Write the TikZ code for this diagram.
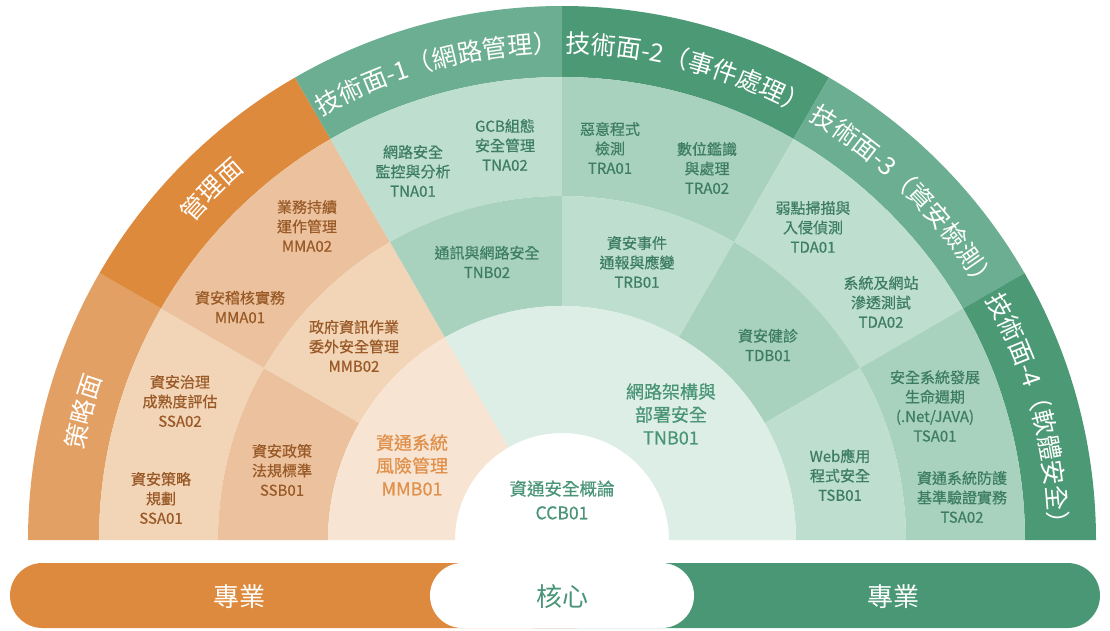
\documentclass[tikz,border=0pt]{standalone}
\usepackage{fontspec}
\newfontfamily\cjk{Noto Sans CJK TC}
\newfontfamily\cjkm{Noto Sans CJK TC}[FakeBold=0.6]
\usetikzlibrary{decorations.text}
\definecolor{stratband}{HTML}{E3A064}
\definecolor{mgtband}{HTML}{DD8A3C}
\definecolor{oLight}{HTML}{F2D4B6}
\definecolor{oDark}{HTML}{EBC29D}
\definecolor{oCore}{HTML}{F8E4D2}
\definecolor{gBandL}{HTML}{6BAE92}
\definecolor{gBandD}{HTML}{4C9976}
\definecolor{gLight}{HTML}{BEDECF}
\definecolor{gDark}{HTML}{A8D1BE}
\definecolor{gCore}{HTML}{DCEEE5}
\definecolor{oText}{HTML}{9A5A28}
\definecolor{oTextB}{HTML}{E0904A}
\definecolor{gText}{HTML}{3D7D63}
\definecolor{gTextB}{HTML}{4A9478}
\definecolor{barO}{HTML}{DE8A3E}
\definecolor{barG}{HTML}{4A9775}
\newcommand{\bandfont}{\cjk\fontsize{25pt}{25pt}\selectfont}
\newcommand{\sector}[5]{\fill[#1] (#2:#4pt) arc[start angle=#2, end angle=#3, radius=#4pt] -- (#3:#5pt) arc[start angle=#3, end angle=#2, radius=#5pt] -- cycle;}
\newcommand{\bandlabel}[4]{\path[decorate,decoration={text along path, text align=center, text color=white, text={|\bandfont|#4}}] (#1:#3pt) arc[start angle=#1, end angle=#2, radius=#3pt];}
\tikzset{
  lab/.style={font=\cjkm\fontsize{15pt}{19.5pt}\selectfont, align=center, inner sep=0pt},
  olab/.style={lab, text=oText},
  glab/.style={lab, text=gText},
  biglab/.style={font=\cjkm\fontsize{18pt}{23pt}\selectfont, align=center, inner sep=0pt},
  barbox/.style={minimum height=65pt, rounded corners=32.5pt, inner sep=0pt},
  bartext/.style={font=\cjk\fontsize{26pt}{26pt}\selectfont, inner sep=0pt}
}
\begin{document}
\begin{tikzpicture}[x=1pt,y=1pt]
\useasboundingbox (-562,-90) rectangle (548,540);
% outer band
\sector{stratband}{150}{180}{463}{534}
\sector{mgtband}{120}{150}{463}{534}
\sector{gBandL}{90}{120}{463}{534}
\sector{gBandD}{60}{90}{463}{534}
\sector{gBandL}{30}{60}{463}{534}
\sector{gBandD}{0}{30}{463}{534}
% ring 2
\sector{oLight}{150}{180}{344}{463}
\sector{oDark}{120}{150}{344}{463}
\sector{gLight}{90}{120}{344}{463}
\sector{gDark}{60}{90}{344}{463}
\sector{gLight}{30}{60}{344}{463}
\sector{gDark}{0}{30}{344}{463}
% ring 3
\sector{oDark}{150}{180}{234}{344}
\sector{oLight}{120}{150}{234}{344}
\sector{gDark}{90}{120}{234}{344}
\sector{gLight}{60}{90}{234}{344}
\sector{gDark}{30}{60}{234}{344}
\sector{gLight}{0}{30}{234}{344}
% ring 4
\sector{oCore}{120}{180}{107}{234}
\sector{gCore}{0}{120}{107}{234}
% band labels
\bandlabel{180}{150}{487}{策略面}
\bandlabel{150}{120}{487}{管理面}
\bandlabel{120}{90}{487}{技術面-1（網路管理）}
\bandlabel{90}{60}{487}{技術面-2（事件處理）}
\bandlabel{60}{30}{487}{技術面-3（資安檢測）}
\bandlabel{30}{0}{487}{技術面-4（軟體安全）}
% labels
\node[olab] (mma02) at (-255,314) {業務持續\\運作管理\\MMA02};
\node[olab] (mma01) at (-322,233) {資安稽核實務\\MMA01};
\node[olab] (mmb02) at (-208,194) {政府資訊作業\\委外安全管理\\MMB02};
\node[olab] (ssa02) at (-382,139) {資安治理\\成熟度評估\\SSA02};
\node[olab] (ssa01) at (-401,42) {資安策略\\規劃\\SSA01};
\node[olab] (ssb01) at (-280,70) {資安政策\\法規標準\\SSB01};
\node[biglab, text=oTextB] (mmb01) at (-150,75) {資通系統\\風險管理\\MMB01};
\node[font=\cjkm\fontsize{17.5pt}{24pt}\selectfont, align=center, inner sep=0pt, text=gTextB] (ccb01) at (0,40) {資通安全概論\\CCB01};
\node[biglab, text=gTextB] (tnb01) at (109,126) {網路架構與\\部署安全\\TNB01};
\node[glab] (tna01) at (-149,369) {網路安全\\監控與分析\\TNA01};
\node[glab] (tna02) at (-57,395) {GCB組態\\安全管理\\TNA02};
\node[glab] (tra01) at (48,392) {惡意程式\\檢測\\TRA01};
\node[glab] (tra02) at (145,372) {數位鑑識\\與處理\\TRA02};
\node[glab] (tnb02) at (-75,278) {通訊與網路安全\\TNB02};
\node[glab] (trb01) at (75,278) {資安事件\\通報與應變\\TRB01};
\node[glab] (tda01) at (251,313) {弱點掃描與\\入侵偵測\\TDA01};
\node[glab] (tda02) at (319,238) {系統及網站\\滲透測試\\TDA02};
\node[glab] (tdb01) at (206,195) {資安健診\\TDB01};
\node[glab] (tsa01) at (373,134) {安全系統發展\\生命週期\\(.Net/JAVA)\\TSA01};
\node[glab] (tsb01) at (278,65) {Web應用\\程式安全\\TSB01};
\node[glab] (tsa02) at (400,43) {資通系統防護\\基準驗證實務\\TSA02};
% bottom bar
\node[barbox, fill=barO, minimum width=600pt] (barL) at (-252,-55.5) {};
\node[barbox, fill=barG, minimum width=600pt] (barR) at (238,-55.5) {};
\node[barbox, fill=white, minimum width=264pt] (barC) at (0,-55.5) {};
\node[bartext, text=white] (proL) at (-322,-57) {專業};
\node[bartext, text=gTextB] (core) at (0,-57) {核心};
\node[bartext, text=white] (proR) at (331,-57) {專業};
\end{tikzpicture}
\end{document}
